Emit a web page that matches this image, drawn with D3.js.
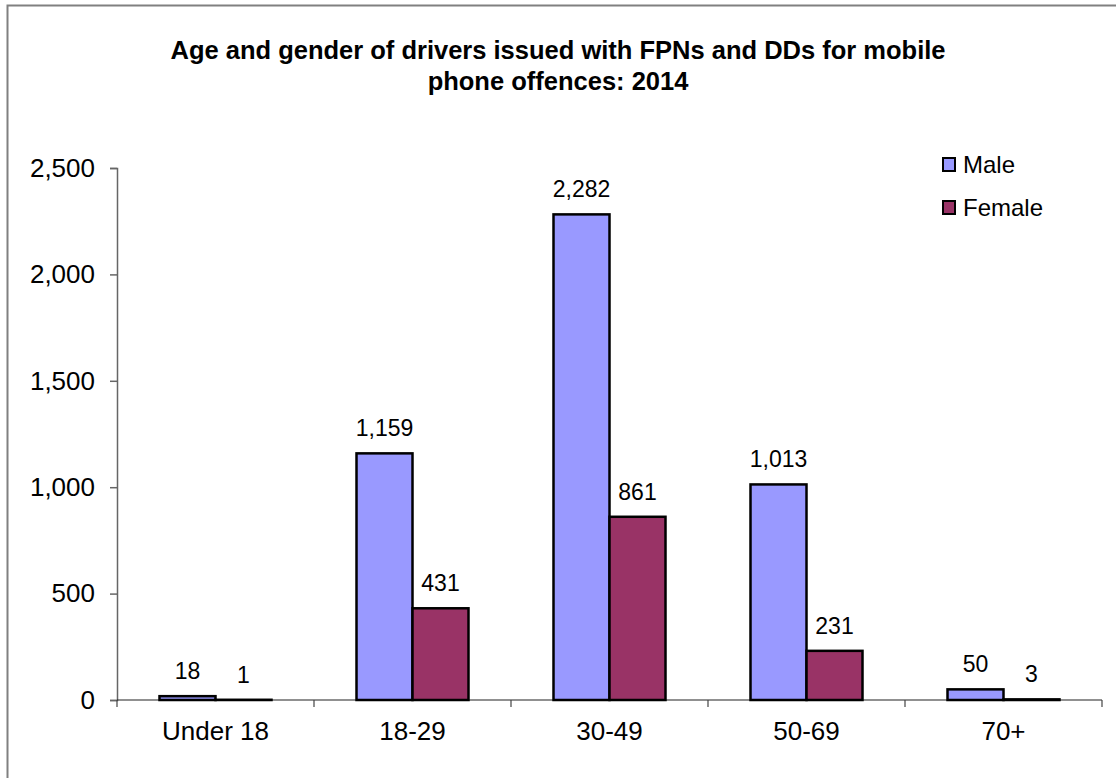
<!DOCTYPE html>
<html>
<head>
<meta charset="utf-8">
<script src="https://cdn.jsdelivr.net/npm/d3@7"></script>
<style>
  body { margin: 0; background: #fff; }
  text { font-family: Arial, "Liberation Sans", sans-serif; fill: #000; }
</style>
</head>
<body>
<div id="chartDiv"></div>
<script>
// chart data
var categories = ["Under 18", "18-29", "30-49", "50-69", "70+"];
var seriesNames = ["Male", "Female"];
var maleValues = [18, 1159, 2282, 1013, 50];
var femaleValues = [1, 431, 861, 231, 3];
var yTicks = [0, 500, 1000, 1500, 2000, 2500];
var titleLines = ["Age and gender of drivers issued with FPNs and DDs for mobile",
                  "phone offences: 2014"];
var colors = ["#9999ff", "#993366"];

var width = 1116, height = 778;
var plot = {left: 117, right: 1102, top: 168, bottom: 700};

var svg = d3.select('#chartDiv').append('svg')
    .attr('width', width)
    .attr('height', height);

// outer frame
svg.append('rect')
    .attr('x', 7.5).attr('y', 5.5)
    .attr('width', width + 20).attr('height', height + 20)
    .attr('fill', 'none')
    .attr('stroke', '#808080')
    .attr('stroke-width', 2);

// title
svg.append('text')
    .attr('x', 558)
    .attr('text-anchor', 'middle')
    .style('font-weight', 'bold')
    .style('font-size', '25.5px')
    .selectAll('tspan')
    .data(titleLines)
    .enter().append('tspan')
    .attr('x', 558)
    .attr('y', function(d, i) { return 59 + i * 31; })
    .text(function(d) { return d; });

var x0 = d3.scaleBand().domain(categories).range([plot.left, plot.right]).padding(0);
var x1 = d3.scaleBand().domain(seriesNames).range([0, 112]);
var y = d3.scaleLinear().domain([0, 2500]).range([plot.bottom, plot.top]);

// y axis
var yAxis = d3.axisLeft(y)
    .tickValues(yTicks)
    .tickSize(7)
    .tickPadding(15)
    .tickFormat(d3.format(','));
var gy = svg.append('g')
    .attr('transform', 'translate(' + plot.left + ',0)')
    .call(yAxis);
gy.selectAll('path, line').attr('stroke', '#666').attr('stroke-width', 1.5);
gy.selectAll('text').style('font-size', '26px').attr('font-family', null);

// x axis: ticks on category boundaries
var xBound = d3.scaleLinear().domain([0, categories.length]).range([plot.left, plot.right]);
var gx = svg.append('g')
    .attr('transform', 'translate(0,' + plot.bottom + ')');
gx.append('line')
    .attr('x1', plot.left).attr('x2', plot.right)
    .attr('stroke', '#222').attr('stroke-width', 1.2);
gx.selectAll('.tick')
    .data(d3.range(categories.length + 1))
    .enter().append('line')
    .attr('x1', function(d) { return xBound(d); })
    .attr('x2', function(d) { return xBound(d); })
    .attr('y1', 0).attr('y2', 7)
    .attr('stroke', '#444').attr('stroke-width', 1.2);
gx.selectAll('.catLabel')
    .data(categories)
    .enter().append('text')
    .attr('class', 'catLabel')
    .attr('x', function(d) { return x0(d) + x0.bandwidth() / 2; })
    .attr('y', 40)
    .attr('text-anchor', 'middle')
    .style('font-size', '26px')
    .text(function(d) { return d; });

// bars
var rows = categories.map(function(c, i) {
    return {cat: c, vals: [
        {name: 'Male', v: maleValues[i], color: colors[0]},
        {name: 'Female', v: femaleValues[i], color: colors[1]}
    ]};
});

var groups = svg.selectAll('.group')
    .data(rows)
    .enter().append('g')
    .attr('class', 'group')
    .attr('transform', function(d) {
        return 'translate(' + (x0(d.cat) + (x0.bandwidth() - 112) / 2) + ',0)';
    });

groups.selectAll('rect')
    .data(function(d) { return d.vals; })
    .enter().append('rect')
    .attr('x', function(d) { return x1(d.name); })
    .attr('y', function(d) { return y(d.v); })
    .attr('width', x1.bandwidth())
    .attr('height', function(d) { return y(0) - y(d.v); })
    .attr('fill', function(d) { return d.color; })
    .attr('stroke', '#000')
    .attr('stroke-width', 2.5);

groups.selectAll('.valLabel')
    .data(function(d) { return d.vals; })
    .enter().append('text')
    .attr('class', 'valLabel')
    .attr('x', function(d) { return x1(d.name) + x1.bandwidth() / 2; })
    .attr('y', function(d) { return y(d.v) - 17; })
    .attr('text-anchor', 'middle')
    .style('font-size', '23px')
    .text(function(d) { return d3.format(',')(d.v); });

// legend
var legend = svg.selectAll('.legend')
    .data(seriesNames)
    .enter().append('g')
    .attr('class', 'legend')
    .attr('transform', function(d, i) { return 'translate(943,' + (158 + i * 43) + ')'; });
legend.append('rect')
    .attr('width', 12).attr('height', 13)
    .attr('fill', function(d, i) { return colors[i]; })
    .attr('stroke', '#000')
    .attr('stroke-width', 2);
legend.append('text')
    .attr('x', 20)
    .attr('y', 15)
    .style('font-size', '24px')
    .text(function(d) { return d; });
</script>
</body>
</html>
